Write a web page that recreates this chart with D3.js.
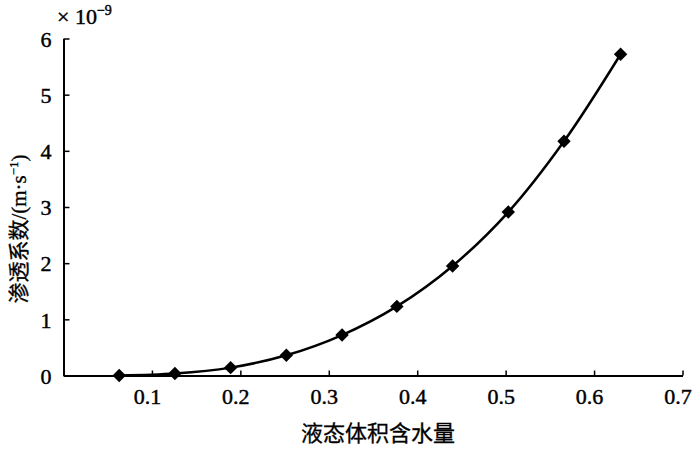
<!DOCTYPE html>
<html>
<head>
<meta charset="utf-8">
<script src="https://cdn.jsdelivr.net/npm/d3@7/dist/d3.min.js"></script>
<style>
  html, body { margin: 0; padding: 0; background: #fff; }
  svg { display: block; }
  text { font-family: "Liberation Serif", "Noto Sans CJK SC", serif; fill: #000; stroke: #000; stroke-width: 0.45px; }
</style>
</head>
<body>
<svg id="chart" width="700" height="450"></svg>
<script>
// Data
const waterContent = [0.063, 0.126, 0.189, 0.252, 0.315, 0.377, 0.440, 0.503, 0.566, 0.630];
const permeability = [0.0, 0.035, 0.14, 0.36, 0.72, 1.23, 1.95, 2.91, 4.17, 5.72]; // ×10^-9 m/s
const xTicks = [0.1, 0.2, 0.3, 0.4, 0.5, 0.6, 0.7];
const yTicks = [0, 1, 2, 3, 4, 5, 6];
const xTitle = "液态体积含水量";
const yTitle = "渗透系数/(m·s";

const svg = d3.select("#chart");
const x = d3.scaleLinear().domain([0, 0.7]).range([63.5, 682.5]);
const y = d3.scaleLinear().domain([0, 6]).range([375.5, 38.5]);

// X axis
const xAxis = svg.append("g").attr("transform", `translate(0,${y(0)})`)
  .call(d3.axisBottom(x).tickValues(xTicks).tickSizeInner(-5).tickSizeOuter(0)
    .tickFormat(d3.format(".1f")));
xAxis.select(".domain").attr("stroke", "#000").attr("stroke-width", 2);
xAxis.selectAll(".tick line").attr("stroke", "#000").attr("stroke-width", 1.5);
xAxis.selectAll(".tick text").attr("font-size", 22).attr("dx", -5).attr("y", 13)
  .attr("dy", "0.71em").style("font-family", "Liberation Serif");

// Y axis
const yAxis = svg.append("g").attr("transform", `translate(${x(0)},0)`)
  .call(d3.axisLeft(y).tickValues(yTicks).tickSizeInner(-6).tickSizeOuter(0)
    .tickFormat(d3.format("d")));
yAxis.select(".domain").attr("stroke", "#000").attr("stroke-width", 2);
yAxis.selectAll(".tick line").attr("stroke", "#000").attr("stroke-width", 1.5);
yAxis.selectAll(".tick text").attr("font-size", 22).attr("x", -12)
  .attr("dy", "0.35em").style("font-family", "Liberation Serif");

// Exponent label
const expo = svg.append("text").attr("x", 57).attr("y", 24).attr("font-size", 22);
expo.append("tspan").text("× 10");
expo.append("tspan").attr("dy", -9).attr("font-size", 14).text("−9");

// Axis titles
svg.append("text").attr("x", 378).attr("y", 441).attr("text-anchor", "middle")
  .attr("font-size", 22).style("stroke-width", "0.3px").text(xTitle);

const yt = svg.append("text").attr("transform", "translate(26,229) rotate(-90)")
  .attr("text-anchor", "middle").attr("font-size", 21).style("stroke-width", "0.3px");
yt.append("tspan").text(yTitle);
yt.append("tspan").attr("dy", -8).attr("font-size", 13).text("−1");
yt.append("tspan").attr("dy", 8).text(")");

// Line
const data = waterContent.map((v, i) => [v, permeability[i]]);
svg.append("path").datum(data)
  .attr("fill", "none").attr("stroke", "#000").attr("stroke-width", 2.5)
  .attr("d", d3.line().x(d => x(d[0])).y(d => y(d[1])).curve(d3.curveCatmullRom.alpha(0.5)));

// Diamond markers
const sym = d3.symbol().type(d3.symbolSquare).size(90);
svg.append("g").selectAll("path").data(data).join("path")
  .attr("d", sym)
  .attr("transform", d => `translate(${x(d[0])},${y(d[1])}) rotate(45)`)
  .attr("fill", "#000");
</script>
</body>
</html>
